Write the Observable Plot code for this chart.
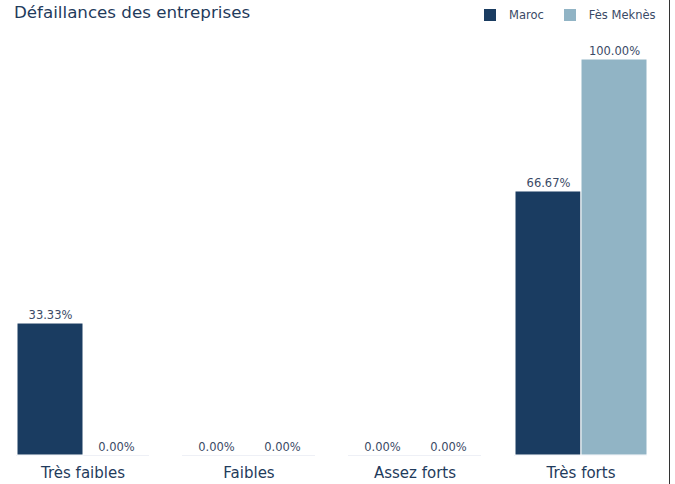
<!DOCTYPE html>
<html><head><meta charset="utf-8">
<script src="https://cdn.jsdelivr.net/npm/d3@7"></script>
<script src="https://cdn.jsdelivr.net/npm/@observablehq/plot@0.6"></script>
<style>
body{margin:0;background:#fff;font-family:"DejaVu Sans",sans-serif;}
#wrap{position:relative;width:669px;height:484px;border-right:1.5px solid #333;}
#title{position:absolute;left:14px;top:2px;font-size:16.7px;color:#1f3b5c;white-space:nowrap;}
#legend{position:absolute;left:484px;top:8px;font-size:11.5px;color:#3a4a66;display:flex;align-items:center;white-space:nowrap;}
.sw{display:inline-block;width:12px;height:12px;margin-right:13px;}
.it{display:flex;align-items:center;margin-right:20px;white-space:nowrap;}
#chart{position:absolute;left:0;top:0;}
</style></head><body>
<div id="wrap">
<div id="chart"></div>
<div id="title">Défaillances des entreprises</div>
<div id="legend"></div>
</div>
<script>
const categories = ["Très faibles", "Faibles", "Assez forts", "Très forts"];
const series = ["Maroc", "Fès Meknès"];
const maroc = [33.33, 0, 0, 66.67];
const fes = [0, 0, 0, 100];
const colors = ["#1a3c61", "#91b4c5"];

const data = [];
categories.forEach((c, i) => {
  data.push({cat: c, s: series[0], v: maroc[i]});
  data.push({cat: c, s: series[1], v: fes[i]});
});

const lg = document.getElementById("legend");
series.forEach((s, i) => {
  const d = document.createElement("div"); d.className = "it";
  d.innerHTML = `<span class="sw" style="background:${colors[i]}"></span>${s}`;
  lg.appendChild(d);
});

const chart = Plot.plot({
  width: 669, height: 484,
  marginTop: 59, marginBottom: 29, marginLeft: 0, marginRight: 7,
  style: {fontFamily: "DejaVu Sans, sans-serif", background: "transparent"},
  fx: {domain: categories, paddingInner: 0.2, paddingOuter: 0.09, label: null},
  x: {domain: series, padding: 0, axis: null},
  y: {domain: [0, 100], axis: null},
  color: {domain: series, range: colors},
  marks: [
    Plot.ruleY([0], {stroke: "#eef0f6", strokeWidth: 1}),
    Plot.barY(data, {fx: "cat", x: "s", y: "v", fill: "s", stroke: "#fff", strokeWidth: 1}),
    Plot.text(data, {fx: "cat", x: "s", y: "v", text: d => d.v.toFixed(2) + "%", dy: -8.5, fill: "#3b4a66", fontSize: 11.5}),
    Plot.axisFx({anchor: "bottom", tickSize: 0, tickPadding: 12, fontSize: 15, color: "#1f3b5c", label: null})
  ]
});
document.getElementById("chart").appendChild(chart);
</script>
</body></html>
